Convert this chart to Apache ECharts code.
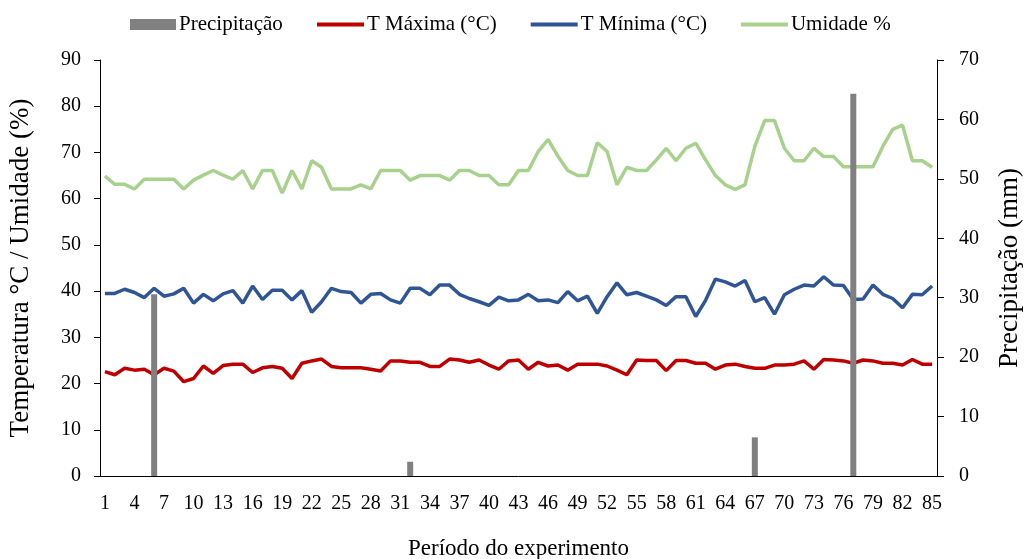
<!DOCTYPE html>
<html>
<head>
<meta charset="utf-8">
<script src="https://cdn.jsdelivr.net/npm/echarts@6/dist/echarts.min.js"></script>
<style>
  html, body { margin: 0; padding: 0; background: #fff; }
  #chart { width: 1025px; height: 559px; }
</style>
</head>
<body>
<div id="chart"></div>
<script>
// Experiment days 1..85
const days = [];
for (let d = 1; d <= 85; d++) days.push(String(d));

// Daily precipitation (mm), only rainy days are non-zero
const precipitacao = [
  0,0,0,0,0,30.6,0,0,0,0, 0,0,0,0,0,0,0,0,0,0,
  0,0,0,0,0,0,0,0,0,0, 0,2.4,0,0,0,0,0,0,0,0,
  0,0,0,0,0,0,0,0,0,0, 0,0,0,0,0,0,0,0,0,0,
  0,0,0,0,0,0,6.5,0,0,0, 0,0,0,0,0,0,64.3,0,0,0,
  0,0,0,0,0
];

// Maximum temperature (°C)
const tMaxima = [
  22.6,21.9,23.3,22.9,23.1,21.9,23.3,22.7,20.4,21.1,
  23.8,22.2,23.9,24.2,24.2,22.4,23.4,23.7,23.3,21.1,
  24.4,24.9,25.3,23.7,23.4,23.4,23.4,23.1,22.7,24.9,
  24.9,24.6,24.6,23.7,23.7,25.3,25.1,24.6,25.1,24.0,
  23.1,24.9,25.1,23.1,24.6,23.8,24.0,22.9,24.2,24.2,
  24.2,23.8,22.9,21.9,25.1,25.0,25.0,22.8,25.0,25.0,
  24.4,24.4,23.1,24.0,24.2,23.7,23.3,23.3,24.0,24.0,
  24.2,24.9,23.1,25.2,25.1,24.9,24.4,25.1,24.9,24.4,
  24.4,24.0,25.2,24.2,24.2
];

// Minimum temperature (°C)
const tMinima = [
  39.5,39.5,40.4,39.7,38.6,40.6,38.9,39.4,40.6,37.4,
  39.3,37.9,39.4,40.1,37.4,41.1,38.2,40.2,40.2,38.1,
  40.1,35.4,37.7,40.6,39.9,39.7,37.4,39.3,39.5,38.1,
  37.4,40.6,40.6,39.2,41.3,41.3,39.3,38.4,37.7,36.9,
  38.7,37.9,38.1,39.3,37.9,38.1,37.5,39.9,37.9,38.9,
  35.2,38.8,41.8,39.2,39.7,38.9,38.1,36.9,38.8,38.8,
  34.5,38.0,42.6,42.0,41.1,42.3,37.7,38.6,35.0,39.2,
  40.4,41.3,41.1,43.1,41.3,41.2,38.2,38.3,41.3,39.3,
  38.4,36.4,39.3,39.2,41.1
];

// Relative humidity (%)
const umidade = [
  64.9,63.1,63.1,62.1,64.2,64.2,64.2,64.2,62.1,64.0,
  65.1,66.1,65.1,64.2,66.1,62.1,66.1,66.1,61.2,66.1,
  62.1,68.2,66.8,62.1,62.1,62.1,63.0,62.1,66.1,66.1,
  66.1,64.0,65.0,65.0,65.0,64.0,66.1,66.1,65.0,65.0,
  63.0,63.0,66.1,66.1,70.2,72.8,69.2,66.1,65.0,65.0,
  72.1,70.2,63.0,66.8,66.1,66.1,68.4,70.9,68.2,70.9,
  72.0,68.4,65.0,63.0,62.0,63.0,71.3,76.9,76.9,70.9,
  68.2,68.2,70.9,69.1,69.1,66.9,66.9,66.9,66.9,71.3,
  75.0,75.9,68.2,68.2,66.8
];

const serif = 'Liberation Serif';
const tick = { fontFamily: serif, fontSize: 20, color: '#000' };
const legendText = { fontFamily: serif, fontSize: 21, color: '#000', padding: [0, 0, 0, -2] };

const chart = echarts.init(document.getElementById('chart'));
chart.setOption({
  backgroundColor: '#fff',
  animation: false,
  textStyle: { fontFamily: serif },
  legend: [
    {
      // bar entry
      top: 9,
      left: 125,
      itemWidth: 46,
      itemHeight: 11,
      textStyle: legendText,
      data: [{ name: 'Precipitação', icon: 'rect' }]
    },
    {
      // line entries
      top: 9,
      left: 312,
      itemGap: 34,
      itemWidth: 47,
      itemHeight: 4,
      textStyle: legendText,
      data: [
        { name: 'T Máxima (°C)', icon: 'rect' },
        { name: 'T Mínima (°C)', icon: 'rect' },
        { name: 'Umidade %', icon: 'rect' }
      ]
    }
  ],
  grid: { left: 100, right: 88, top: 60, bottom: 83, outerBoundsMode: 'none' },
  xAxis: {
    type: 'category',
    data: days,
    boundaryGap: true,
    name: 'Período do experimento',
    nameLocation: 'middle',
    nameGap: 61,
    nameTextStyle: { fontFamily: serif, fontSize: 23, color: '#000' },
    axisLine: { lineStyle: { color: '#000', width: 1 } },
    axisTick: { interval: 0, length: 7, lineStyle: { color: '#000' } },
    axisLabel: Object.assign({ interval: 2, margin: 18 }, tick)
  },
  yAxis: [
    {
      type: 'value',
      min: 0, max: 90, interval: 10,
      name: 'Temperatura °C / Umidade (%)',
      nameLocation: 'middle',
      nameGap: 66,
      nameTextStyle: { fontFamily: serif, fontSize: 27, color: '#000' },
      axisLine: { show: true, lineStyle: { color: '#000' } },
      axisTick: { show: true, length: 6, lineStyle: { color: '#000' } },
      axisLabel: Object.assign({ margin: 19 }, tick),
      splitLine: { show: false }
    },
    {
      type: 'value',
      min: 0, max: 70, interval: 10,
      position: 'right',
      name: 'Precipitação (mm)',
      nameLocation: 'middle',
      nameGap: 59,
      nameTextStyle: { fontFamily: serif, fontSize: 27, color: '#000' },
      axisLine: { show: true, lineStyle: { color: '#000' } },
      axisTick: { show: true, length: 7, lineStyle: { color: '#000' } },
      axisLabel: Object.assign({ margin: 22 }, tick),
      splitLine: { show: false }
    }
  ],
  series: [
    {
      name: 'Precipitação',
      type: 'bar',
      yAxisIndex: 1,
      data: precipitacao,
      barWidth: 6,
      z: 5,
      itemStyle: { color: '#808080' }
    },
    {
      name: 'T Máxima (°C)',
      type: 'line',
      data: tMaxima,
      symbol: 'none',
      z: 2,
      lineStyle: { color: '#C00000', width: 3.5 },
      itemStyle: { color: '#C00000' }
    },
    {
      name: 'T Mínima (°C)',
      type: 'line',
      data: tMinima,
      symbol: 'none',
      z: 2,
      lineStyle: { color: '#2F5597', width: 3.5 },
      itemStyle: { color: '#2F5597' }
    },
    {
      name: 'Umidade %',
      type: 'line',
      data: umidade,
      symbol: 'none',
      z: 2,
      lineStyle: { color: '#A9D18E', width: 3.5 },
      itemStyle: { color: '#A9D18E' }
    }
  ]
});
</script>
</body>
</html>
